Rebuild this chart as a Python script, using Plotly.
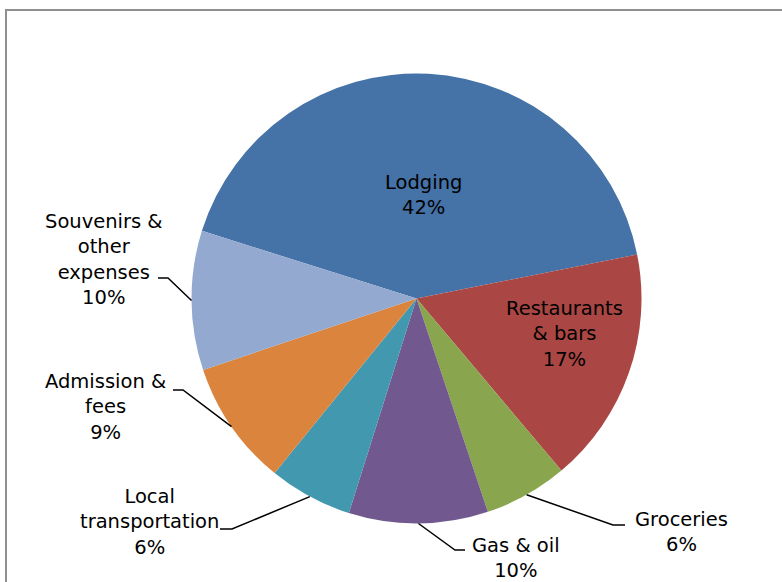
import math
import plotly.graph_objects as go

# ---- data ----
categories = ["Lodging", "Restaurants & bars", "Groceries", "Gas & oil",
              "Local transportation", "Admission & fees", "Souvenirs & other expenses"]
values = [42, 17, 6, 10, 6, 9, 10]
label_texts = ["Lodging<br>42%", "Restaurants<br>& bars<br>17%", "Groceries<br>6%",
               "Gas & oil<br>10%", "Local<br>transportation<br>6%", "Admission &<br>fees<br>9%",
               "Souvenirs &<br>other<br>expenses<br>10%"]
colors = ["#4572A7", "#AA4643", "#89A54E", "#71588F", "#4198AF", "#DB843D", "#93A9CF"]

# ---- layout geometry (pixels) ----
W, H = 782, 582
CX, CY, R = 416.5, 298.5, 225
ROT = -72.5

# label centres (pixels) and leader elbows: (elbow point, horizontal end point) or None
label_pos = [(423, 195), (564, 334), (681, 532), (516, 558), (149, 522), (105, 407), (104, 259.5)]
leaders = [None, None,
           ((613, 525), (625, 525)),
           ((455, 550), (465, 550)),
           ((232, 529), (220, 529)),
           ((183, 390), (173, 390)),
           ((168, 278), (158, 278))]


def px(x):
    return x / W


def py(y):
    return 1 - y / H


fig = go.Figure(go.Pie(
    labels=categories, values=values, sort=False, direction="clockwise",
    rotation=ROT, textinfo="none", hoverinfo="label+percent",
    marker=dict(colors=colors, line=dict(width=0)),
    domain=dict(x=[px(CX - R), px(CX + R)], y=[py(CY + R), py(CY - R)]),
    showlegend=False,
))

font = dict(family="DejaVu Sans", size=19.5, color="black")
annotations = []
shapes = []
total = sum(values)
start = ROT
for i, v in enumerate(values):
    span = 360 * v / total
    mid = math.radians(start + span / 2)
    start += span
    lx, ly = label_pos[i]
    annotations.append(dict(x=px(lx), y=py(ly), xref="paper", yref="paper",
                            text=label_texts[i], showarrow=False, font=font,
                            align="center", xanchor="center", yanchor="middle"))
    if leaders[i] is not None:
        ax = CX + R * math.sin(mid)
        ay = CY - R * math.cos(mid)
        (ex, ey), (hx, hy) = leaders[i]
        path = f"M {px(ax)} {py(ay)} L {px(ex)} {py(ey)} L {px(hx)} {py(hy)}"
        shapes.append(dict(type="path", xref="paper", yref="paper", path=path,
                           line=dict(color="black", width=1.5)))

# outer frame (clipped on right and bottom as in the reference)
shapes.append(dict(type="rect", xref="paper", yref="paper",
                   x0=px(6), y0=py(620), x1=px(820), y1=py(10),
                   line=dict(color="#8f8f8f", width=2)))

fig.update_layout(width=W, height=H, margin=dict(l=0, r=0, t=0, b=0),
                  paper_bgcolor="white", plot_bgcolor="white",
                  annotations=annotations, shapes=shapes)

fig.write_html("out.html")
